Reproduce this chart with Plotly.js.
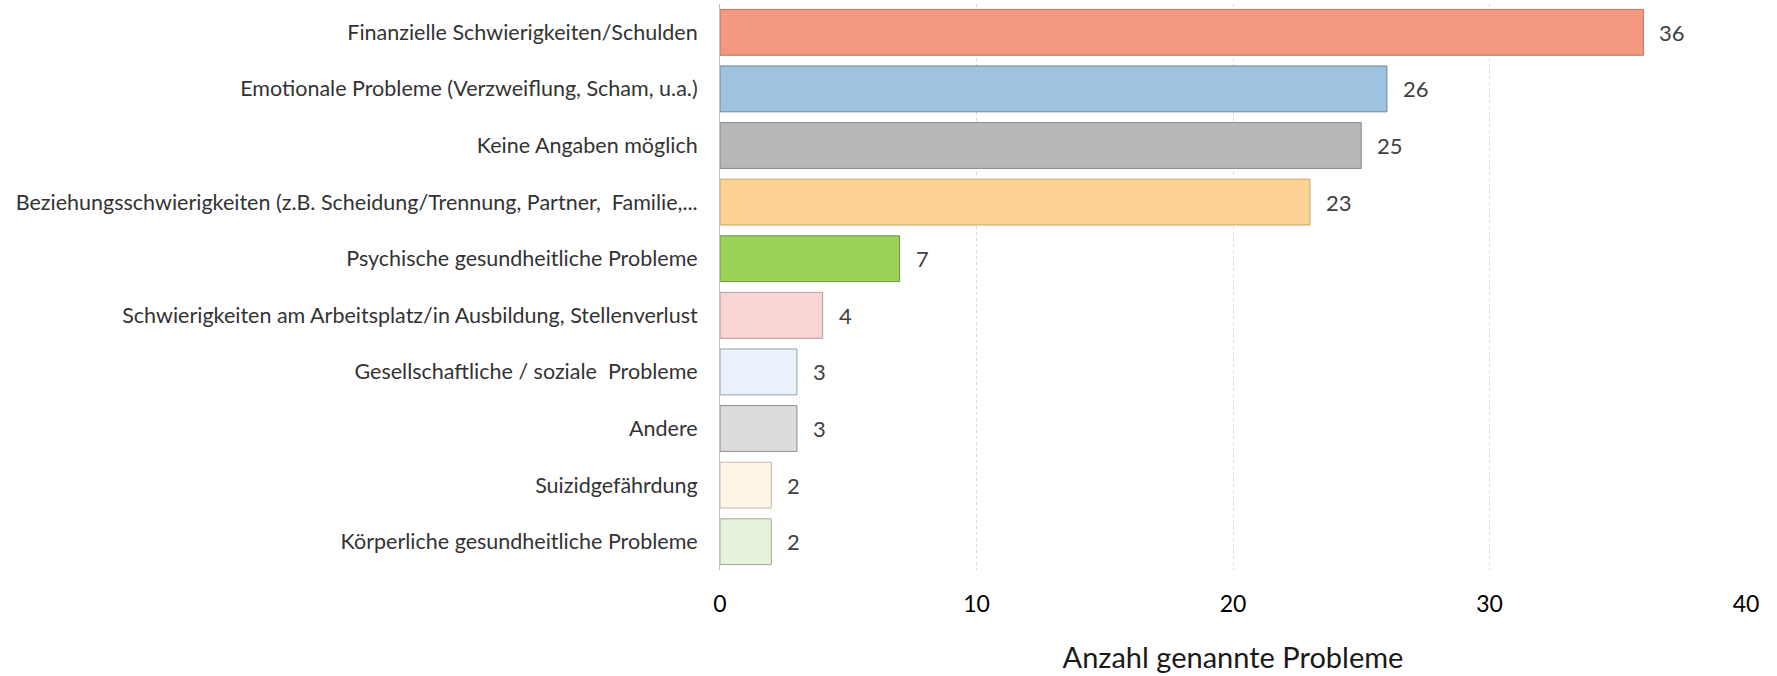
<!DOCTYPE html>
<html>
<head>
<meta charset="utf-8">
<script src="https://cdn.plot.ly/plotly-3.0.1.min.js"></script>
<style>html,body{margin:0;padding:0;background:#fff;}#chart{width:1777px;height:676px;}</style>
</head>
<body>
<div id="chart"></div>
<script>
const categories = [
  "Finanzielle Schwierigkeiten/Schulden",
  "Emotionale Probleme (Verzweiflung, Scham, u.a.)",
  "Keine Angaben möglich",
  "Beziehungsschwierigkeiten (z.B. Scheidung/Trennung, Partner,  Familie,...",
  "Psychische gesundheitliche Probleme",
  "Schwierigkeiten am Arbeitsplatz/in Ausbildung, Stellenverlust",
  "Gesellschaftliche / soziale  Probleme",
  "Andere",
  "Suizidgefährdung",
  "Körperliche gesundheitliche Probleme"
];
const values = [36, 26, 25, 23, 7, 4, 3, 3, 2, 2];
const fillColors = ["#F4997F", "#9DC3E0", "#B7B7B7", "#FDD393", "#99D258", "#F9D5D5", "#EAF1FA", "#DCDCDC", "#FEF4E8", "#E6F3DC"];
const lineColors = ["#B9735F", "#6A869F", "#8A8A8A", "#C8A56E", "#6E9A3E", "#B99A9A", "#9AA0A8", "#8E8E8E", "#C4B8A8", "#A0A89A"];
const xTicks = [0, 10, 20, 30, 40];
const xTitle = "Anzahl genannte Probleme";

const trace = {
  type: "bar",
  orientation: "h",
  x: values,
  y: categories,
  marker: { color: fillColors, line: { color: lineColors, width: 1 } },
  hoverinfo: "x+y"
};

const annotations = values.map((v, i) => ({
  x: v, y: categories[i], xref: "x", yref: "y",
  text: String(v), showarrow: false, xanchor: "left", xshift: 14,
  font: { family: "Lato, 'Open Sans', sans-serif", size: 22, color: "#404040" }
}));

const layout = {
  width: 1777, height: 676,
  margin: { l: 720, r: 31, t: 4, b: 106 },
  paper_bgcolor: "#ffffff", plot_bgcolor: "#ffffff",
  bargap: 0.19,
  showlegend: false,
  font: { family: "Lato, 'Open Sans', sans-serif", color: "#262626" },
  xaxis: {
    range: [0, 40],
    tickvals: xTicks,
    ticktext: xTicks.map(String),
    showgrid: true, gridcolor: "#d9d9d9", griddash: "3px,3px", gridwidth: 1,
    zeroline: false, showline: false, ticks: "",
    ticklabelstandoff: 18,
    tickfont: { size: 23, color: "#000000" },
    title: { text: xTitle, font: { size: 29, color: "#1a1a1a" }, standoff: 31 }
  },
  yaxis: {
    type: "category",
    categoryorder: "array", categoryarray: categories,
    autorange: "reversed",
    showgrid: false, zeroline: false,
    showline: true, linecolor: "#bfbfbf", linewidth: 1,
    ticks: "", ticklabelstandoff: 17,
    tickfont: { size: 21.5, color: "#333333" }
  },
  annotations: annotations
};

Plotly.newPlot("chart", [trace], layout, { displayModeBar: false, staticPlot: true });
</script>
</body>
</html>
